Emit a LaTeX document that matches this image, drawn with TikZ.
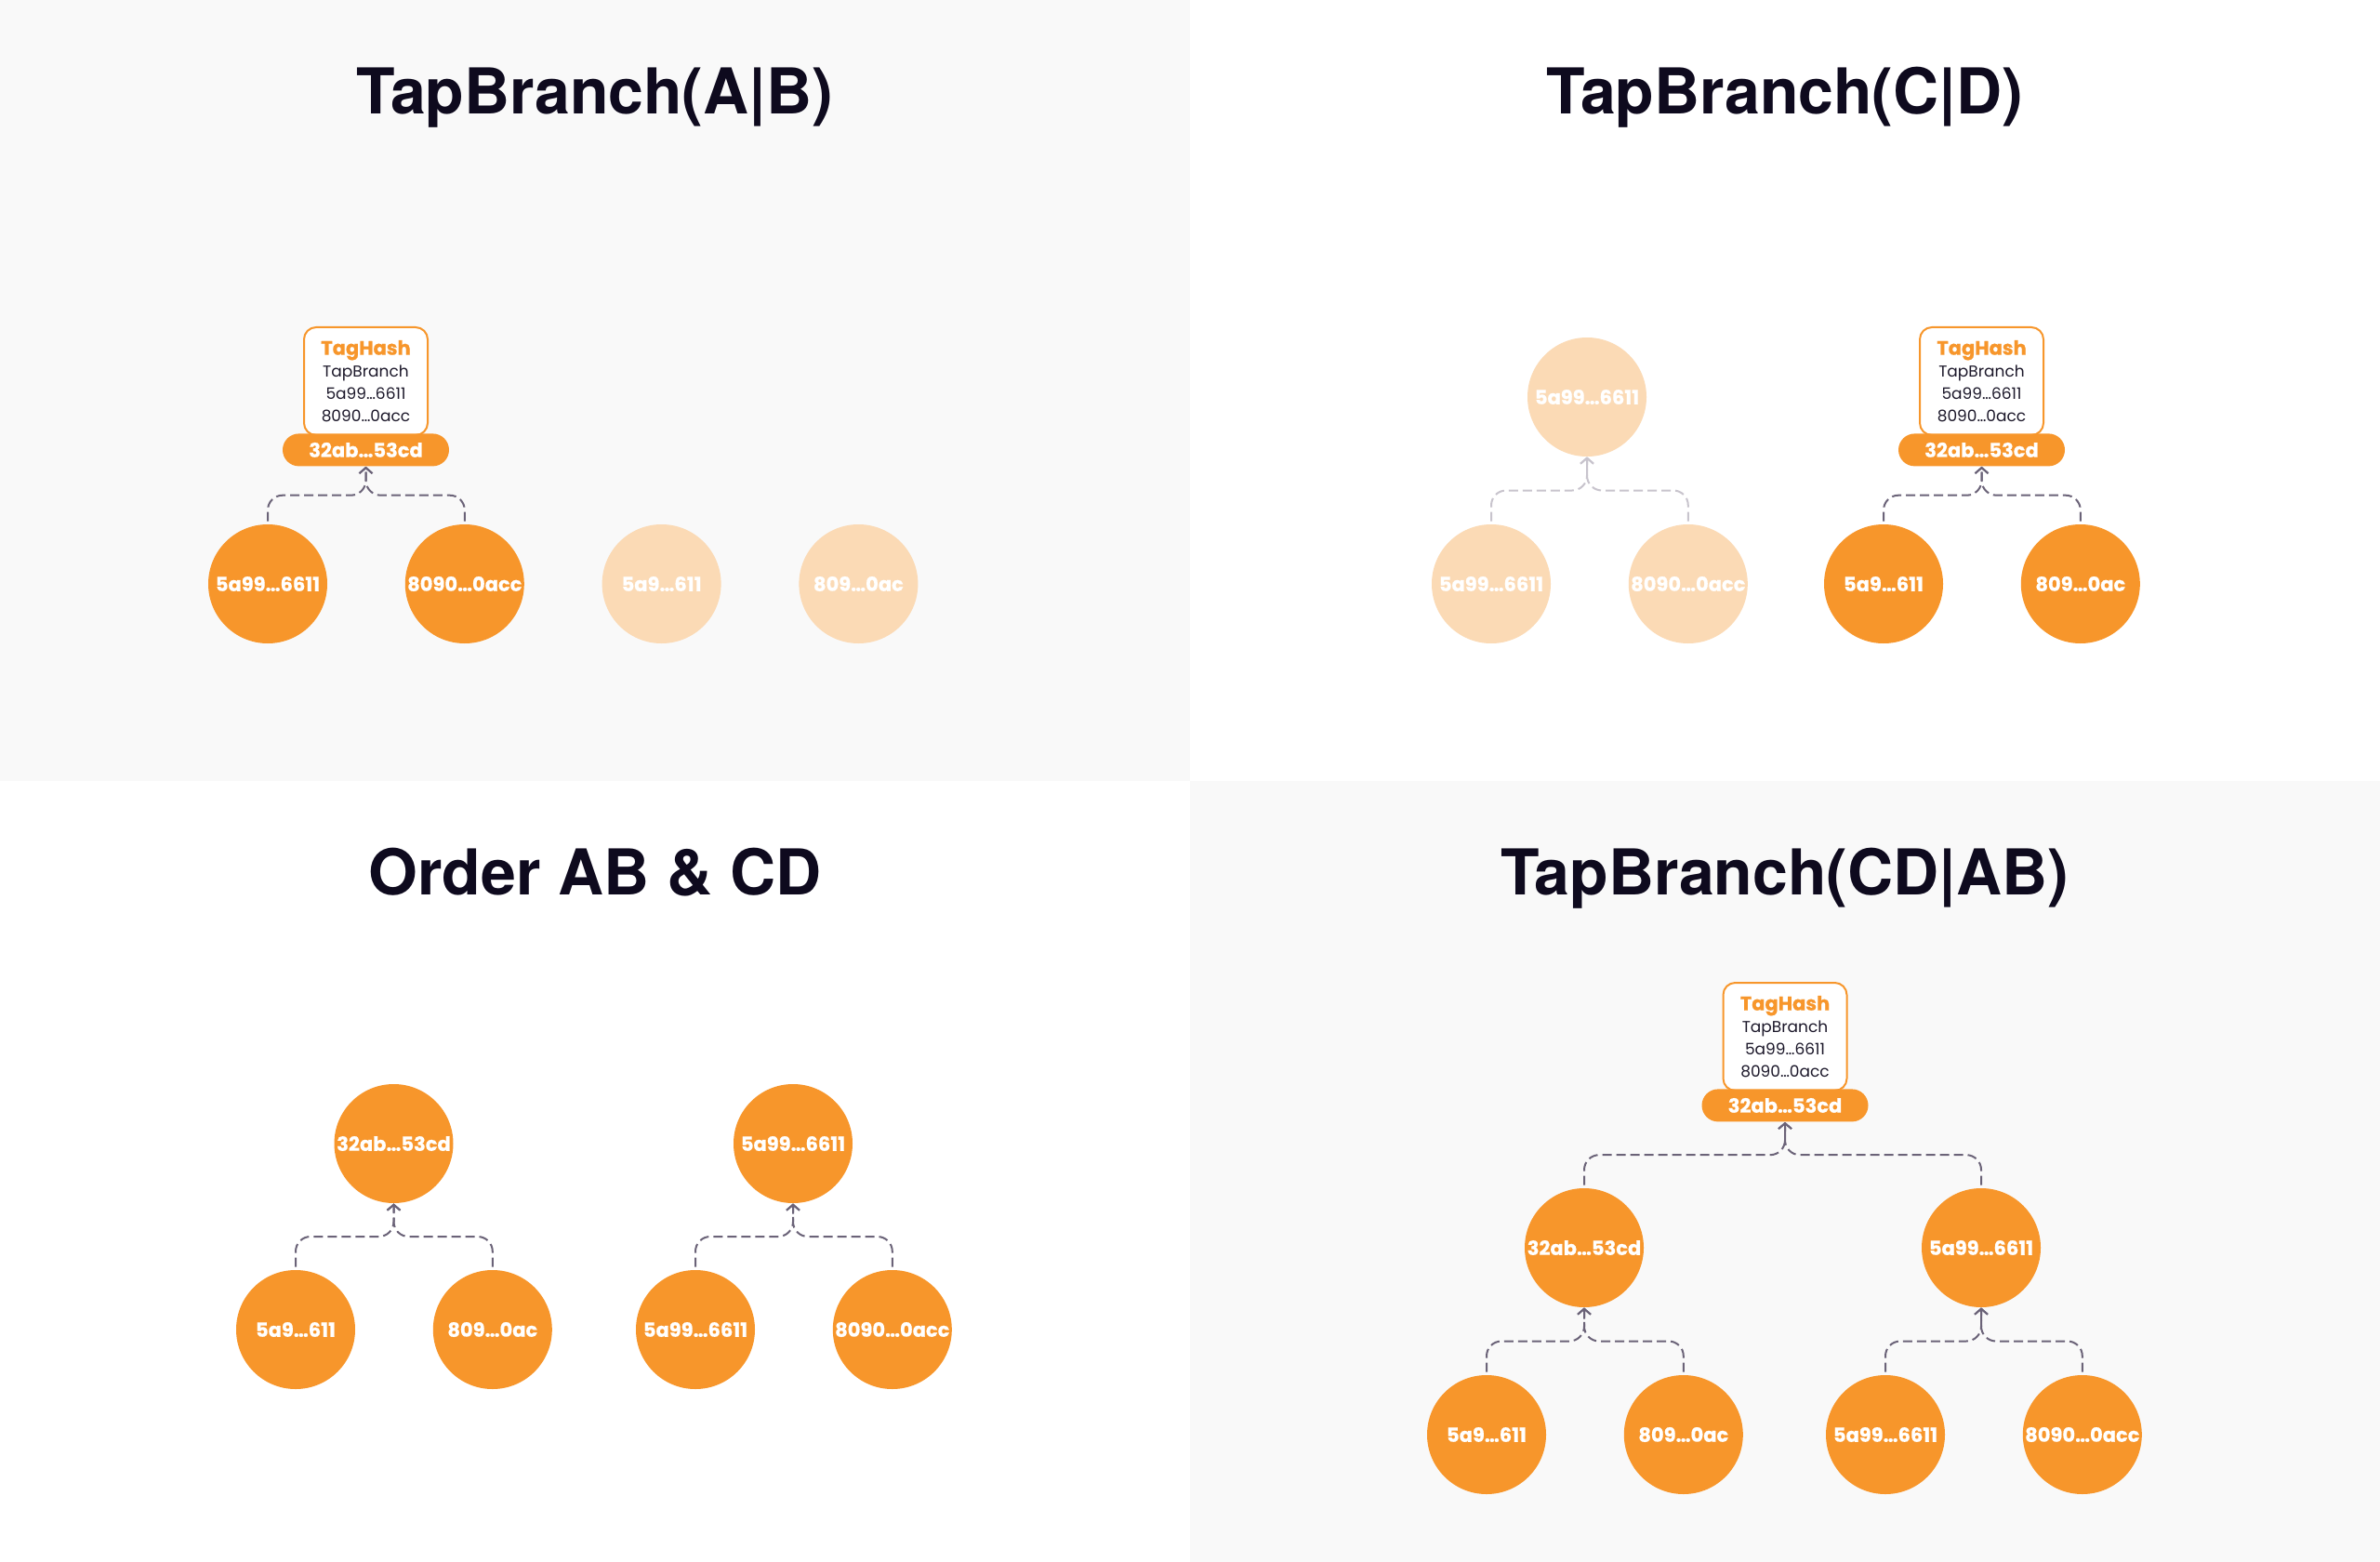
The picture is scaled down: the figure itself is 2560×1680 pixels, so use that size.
\documentclass[tikz,border=0pt]{standalone}
\usepackage{fontspec}
\setmainfont{Poppins}[BoldFeatures={FakeBold=0.6}]
\newfontfamily\titlefont{TeX Gyre Heros}
\usepackage{tikz}
\usetikzlibrary{positioning, calc, arrows.meta}
\definecolor{tporange}{RGB}{247,150,43}
\definecolor{tpfaded}{RGB}{251,218,181}
\definecolor{tpink}{RGB}{14,10,30}
\definecolor{tptext}{RGB}{28,24,42}
\definecolor{tpgray}{RGB}{107,99,120}
\definecolor{tpgraylight}{RGB}{200,196,205}
\definecolor{bggray}{RGB}{249,249,249}
\tikzset{hash node/.style={circle,fill=tporange,text=white,minimum size=64pt,inner sep=0pt,font=\bfseries\fontsize{10.5}{12}\selectfont}}
\tikzset{faded node/.style={hash node,fill=tpfaded}}
\tikzset{root node/.style={rounded corners=8.75pt,fill=tporange,text=white,minimum width=89.5pt,minimum height=17.5pt,inner sep=0pt,font=\bfseries\fontsize{10.5}{12}\selectfont}}
\tikzset{tag node/.style={draw=tporange,line width=1pt,fill=white,rounded corners=6.5pt,minimum width=66.5pt,minimum height=58pt,inner sep=0pt,align=center,text=tptext,font=\fontsize{8.5}{12}\selectfont}}
\tikzset{title node/.style={anchor=base,text=tpink,font=\titlefont\bfseries\fontsize{34}{40}\selectfont}}
\tikzset{link/.style={draw=tpgray,line width=1pt,dash pattern=on 5pt off 2.5pt,rounded corners=8pt,-{Straight Barb[length=3pt,width=7pt]}}}
\tikzset{faded link/.style={link,draw=tpgraylight}}

\begin{document}
\begin{tikzpicture}[x=0.5pt,y=-0.5pt]
            \useasboundingbox (0,0) rectangle (2560,1680);
            \fill[white] (0,0) rectangle (2560,1680);
            \fill[bggray] (0,0) rectangle (1280,840);
            \fill[bggray] (1280,840) rectangle (2560,1680);

            % TapBranch(A|B)
            \node[title node] (t1) at (640,123) {TapBranch(A|B)};
            \node[hash node] (a1) at (288,628) {5a99…6611};
            \node[hash node] (b1) [right = 41.5pt of a1] {8090…0acc};
            \node[faded node] (c1) [right = 41.5pt of b1] {5a9…611};
            \node[faded node] (d1) [right = 41.5pt of c1] {809…0ac};
            \node[tag node, anchor=north] (tag1) at (393.5,351) {{\bfseries\color{tporange}\fontsize{10.5}{12}\selectfont TagHash}\\TapBranch\\5a99…6611\\8090…0acc};
            \node[root node] (ab1) [below = -1.5pt of tag1] {32ab…53cd};

            \draw[link] ([yshift=1.5pt]a1.north) |- ($(ab1.south)!.5!(ab1.south |- a1.north)$) -- (ab1.south);
            \draw[link] ([yshift=1.5pt]b1.north) |- ($(ab1.south)!.5!(ab1.south |- b1.north)$) -- (ab1.south);

            % TapBranch(C|D)
            \node[title node] (t2) at (1920,123) {TapBranch(C|D)};
            \node[faded node] (a2) at (1604,628) {5a99…6611};
            \node[faded node] (b2) [right = 41.5pt of a2] {8090…0acc};
            \node[faded node] (ab2) at (1707,427) {5a99…6611};
            \node[hash node] (c2) at (2026,628) {5a9…611};
            \node[hash node] (d2) [right = 41.5pt of c2] {809…0ac};
            \node[tag node, anchor=north] (tag2) at (2131.5,351) {{\bfseries\color{tporange}\fontsize{10.5}{12}\selectfont TagHash}\\TapBranch\\5a99…6611\\8090…0acc};
            \node[root node] (cd2) [below = -1.5pt of tag2] {32ab…53cd};

            \draw[faded link] ([yshift=1.5pt]a2.north) |- ($(ab2.south)!.5!(ab2.south |- a2.north)$) -- (ab2.south);
            \draw[faded link] ([yshift=1.5pt]b2.north) |- ($(ab2.south)!.5!(ab2.south |- b2.north)$) -- (ab2.south);
            \draw[link] ([yshift=1.5pt]c2.north) |- ($(cd2.south)!.5!(cd2.south |- c2.north)$) -- (cd2.south);
            \draw[link] ([yshift=1.5pt]d2.north) |- ($(cd2.south)!.5!(cd2.south |- d2.north)$) -- (cd2.south);

            % Order AB & CD
            \node[title node] (t3) at (640,962) {Order AB \& CD};
            \node[hash node] (c3) at (318,1430) {5a9…611};
            \node[hash node] (d3) [right = 41.5pt of c3] {809…0ac};
            \node[hash node] (cd3) at (423.5,1230) {32ab…53cd};
            \node[hash node] (a3) at (748,1430) {5a99…6611};
            \node[hash node] (b3) [right = 41.5pt of a3] {8090…0acc};
            \node[hash node] (ab3) at (853,1230) {5a99…6611};

            \draw[link] ([yshift=1.5pt]c3.north) |- ($(cd3.south)!.5!(cd3.south |- c3.north)$) -- (cd3.south);
            \draw[link] ([yshift=1.5pt]d3.north) |- ($(cd3.south)!.5!(cd3.south |- d3.north)$) -- (cd3.south);
            \draw[link] ([yshift=1.5pt]a3.north) |- ($(ab3.south)!.5!(ab3.south |- a3.north)$) -- (ab3.south);
            \draw[link] ([yshift=1.5pt]b3.north) |- ($(ab3.south)!.5!(ab3.south |- b3.north)$) -- (ab3.south);

            % TapBranch(CD|AB)
            \node[title node] (t4) at (1920,962) {TapBranch(CD|AB)};
            \node[hash node] (c4) at (1599,1543) {5a9…611};
            \node[hash node] (d4) [right = 41.5pt of c4] {809…0ac};
            \node[hash node] (a4) at (2028,1543) {5a99…6611};
            \node[hash node] (b4) [right = 41.5pt of a4] {8090…0acc};
            \node[hash node] (cd4) at (1704,1342) {32ab…53cd};
            \node[hash node] (ab4) at (2131,1342) {5a99…6611};
            \node[tag node, anchor=north] (tag4) at (1920,1056) {{\bfseries\color{tporange}\fontsize{10.5}{12}\selectfont TagHash}\\TapBranch\\5a99…6611\\8090…0acc};
            \node[root node] (root4) [below = -1.5pt of tag4] {32ab…53cd};

            \draw[link] ([yshift=1.5pt]c4.north) |- ($(cd4.south)!.5!(cd4.south |- c4.north)$) -- (cd4.south);
            \draw[link] ([yshift=1.5pt]d4.north) |- ($(cd4.south)!.5!(cd4.south |- d4.north)$) -- (cd4.south);
            \draw[link] ([yshift=1.5pt]a4.north) |- ($(ab4.south)!.5!(ab4.south |- a4.north)$) -- (ab4.south);
            \draw[link] ([yshift=1.5pt]b4.north) |- ($(ab4.south)!.5!(ab4.south |- b4.north)$) -- (ab4.south);
            \draw[link] ([yshift=1.5pt]cd4.north) |- ($(root4.south)!.5!(root4.south |- cd4.north)$) -- (root4.south);
            \draw[link] ([yshift=1.5pt]ab4.north) |- ($(root4.south)!.5!(root4.south |- ab4.north)$) -- (root4.south);
        \end{tikzpicture}
\end{document}
